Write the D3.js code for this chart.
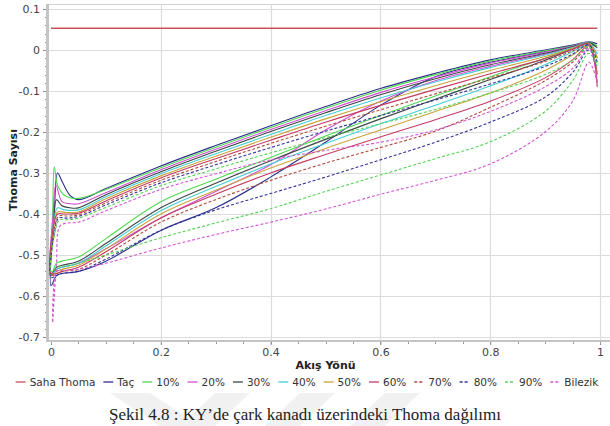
<!DOCTYPE html>
<html>
<head>
<meta charset="utf-8">
<script src="https://cdn.jsdelivr.net/npm/d3@7"></script>
<style>
  body { margin: 0; background: #fff; }
  svg { display: block; }
</style>
</head>
<body>
<svg id="chart" width="610" height="426"></svg>
<script>
// series names (legend order)
const seriesNames = ["Taç","10%","20%","30%","40%","50%","60%","70%","80%","90%","Bilezik"];
const sahaThoma = [[0, 0.053], [0.995, 0.053]];

// pressure side (upper branch) sampled at xUpper
const xUpper = [0.05, 0.1, 0.2, 0.3, 0.4, 0.5, 0.6, 0.7, 0.8, 0.9, 0.95, 0.98];
const upperValues = [
  [-0.365,-0.338,-0.283,-0.233,-0.185,-0.138,-0.094,-0.057,-0.024, 0.000, 0.012, 0.020],
  [-0.362,-0.340,-0.287,-0.237,-0.189,-0.142,-0.098,-0.060,-0.027,-0.002, 0.010, 0.019],
  [-0.375,-0.348,-0.292,-0.242,-0.194,-0.148,-0.104,-0.066,-0.032,-0.005, 0.009, 0.018],
  [-0.385,-0.353,-0.297,-0.247,-0.199,-0.153,-0.109,-0.070,-0.036,-0.008, 0.008, 0.018],
  [-0.390,-0.358,-0.302,-0.253,-0.206,-0.160,-0.117,-0.078,-0.043,-0.012, 0.006, 0.017],
  [-0.395,-0.363,-0.307,-0.259,-0.213,-0.168,-0.126,-0.087,-0.050,-0.016, 0.004, 0.016],
  [-0.398,-0.368,-0.312,-0.265,-0.220,-0.176,-0.135,-0.096,-0.058,-0.021, 0.002, 0.015],
  [-0.402,-0.373,-0.318,-0.272,-0.228,-0.186,-0.146,-0.107,-0.068,-0.028,-0.002, 0.014],
  [-0.406,-0.378,-0.324,-0.280,-0.238,-0.198,-0.160,-0.122,-0.083,-0.040,-0.010, 0.012],
  [-0.410,-0.384,-0.331,-0.290,-0.251,-0.214,-0.180,-0.145,-0.105,-0.060,-0.025, 0.008],
  [-0.420,-0.392,-0.340,-0.302,-0.268,-0.245,-0.225,-0.195,-0.150,-0.090,-0.045, 0.004]
];

// suction side (lower branch) sampled at xLower
const xLower = [0.01, 0.02, 0.05, 0.1, 0.2, 0.3, 0.4, 0.5, 0.6, 0.7, 0.8, 0.9, 0.95, 0.98];
const lowerValues = [
  [-0.550,-0.545,-0.540,-0.515,-0.440,-0.385,-0.310,-0.225,-0.135,-0.065,-0.030,-0.004, 0.010, 0.019],
  [-0.520,-0.515,-0.505,-0.460,-0.370,-0.315,-0.262,-0.210,-0.160,-0.112,-0.065,-0.020, 0.004, 0.016],
  [-0.535,-0.530,-0.520,-0.485,-0.410,-0.345,-0.280,-0.195,-0.125,-0.075,-0.040,-0.010, 0.006, 0.017],
  [-0.530,-0.525,-0.515,-0.472,-0.385,-0.325,-0.270,-0.218,-0.168,-0.120,-0.072,-0.025, 0.002, 0.016],
  [-0.535,-0.530,-0.520,-0.478,-0.392,-0.333,-0.278,-0.228,-0.180,-0.135,-0.088,-0.036,-0.004, 0.014],
  [-0.540,-0.535,-0.525,-0.485,-0.400,-0.342,-0.288,-0.240,-0.195,-0.150,-0.105,-0.050,-0.012, 0.012],
  [-0.545,-0.540,-0.530,-0.492,-0.410,-0.352,-0.300,-0.255,-0.212,-0.170,-0.125,-0.068,-0.024, 0.010],
  [-0.545,-0.540,-0.535,-0.500,-0.420,-0.365,-0.318,-0.276,-0.238,-0.198,-0.140,-0.075,-0.030, 0.006],
  [-0.550,-0.545,-0.540,-0.510,-0.440,-0.390,-0.350,-0.310,-0.268,-0.225,-0.176,-0.115,-0.055, 0.000],
  [-0.530,-0.528,-0.520,-0.500,-0.458,-0.422,-0.387,-0.345,-0.305,-0.265,-0.224,-0.150,-0.075,-0.008],
  [-0.540,-0.538,-0.535,-0.520,-0.483,-0.450,-0.420,-0.388,-0.352,-0.318,-0.278,-0.200,-0.125,-0.030]
];

// leading edge points [x, value] going from suction side up to pressure side
const leadingEdge = [
  [[0,-0.575],[0.006,-0.40],[0.012,-0.300],[0.02,-0.320],[0.035,-0.355]],
  [[0,-0.550],[0.003,-0.40],[0.006,-0.285],[0.012,-0.330],[0.025,-0.355]],
  [[0,-0.545],[0.004,-0.40],[0.009,-0.330],[0.02,-0.370],[0.035,-0.375]],
  [[0,-0.550],[0.005,-0.42],[0.010,-0.365],[0.02,-0.380],[0.035,-0.385]],
  [[0,-0.550],[0.006,-0.41],[0.012,-0.385],[0.025,-0.390]],
  [[0,-0.550],[0.006,-0.42],[0.012,-0.395],[0.025,-0.396]],
  [[0,-0.545],[0.006,-0.42],[0.012,-0.400],[0.025,-0.400]],
  [[0,-0.550],[0.007,-0.43],[0.014,-0.405],[0.03,-0.405]],
  [[0,-0.555],[0.007,-0.44],[0.014,-0.410],[0.03,-0.410]],
  [[0,-0.540],[0.008,-0.44],[0.015,-0.415],[0.03,-0.414]],
  [[0.004,-0.60],[0.003,-0.665],[0.006,-0.60],[0.01,-0.52],[0.016,-0.430],[0.03,-0.422]]
];

// trailing edge value at x = 0.995
const trailingEdge = [0.015, 0.010, -0.020, 0.005, -0.010, -0.020, -0.090, -0.060, -0.030, -0.040, -0.080];

const colors = ["#2b2f8c","#4fd84f","#d24fd2","#3d4646","#45cfd6","#c9a43a","#c43c64","#b24a3c","#33339a","#55d455","#d455d4"];
const dashed = [false,false,false,false,false,false,false,true,true,true,true];
const sahaColor = "#c8505a";

const svg = d3.select("#chart");
const plot = {left: 48, right: 610, top: 4, bottom: 341};

const x = d3.scaleLinear().domain([0, 1]).range([51, 600]);
const y = d3.scaleLinear().domain([0.1, -0.7]).range([9, 337]);

const font = "'DejaVu Sans', Verdana, sans-serif";

// faint watermark stripes behind the caption
const wm = svg.append("g").attr("fill","#f1f1f1");
[[110,393,150,393,200,426,160,426],[215,393,250,393,215,426,180,426],
 [300,393,335,393,300,426,265,426],[385,393,420,393,385,426,350,426]]
  .forEach(p => wm.append("polygon").attr("points",
    `${p[0]},${p[1]} ${p[2]},${p[3]} ${p[4]},${p[5]} ${p[6]},${p[7]}`));

svg.append("clipPath").attr("id","clip")
  .append("rect").attr("x",plot.left).attr("y",plot.top)
  .attr("width",plot.right-plot.left).attr("height",plot.bottom-plot.top);

// border top
svg.append("line").attr("x1",plot.left).attr("x2",plot.right)
  .attr("y1",plot.top+0.5).attr("y2",plot.top+0.5)
  .attr("stroke","#d4d4d4");

// grid
const gy = d3.range(-7, 2).map(d => d/10);
svg.append("g").selectAll("line").data(gy).join("line")
  .attr("x1",plot.left).attr("x2",plot.right)
  .attr("y1",d=>Math.round(y(d))+0.5).attr("y2",d=>Math.round(y(d))+0.5)
  .attr("stroke","#dcdcdc").attr("stroke-width",1.2);
const gx = [0.2,0.4,0.6,0.8,1];
svg.append("g").selectAll("line").data(gx).join("line")
  .attr("y1",plot.top).attr("y2",plot.bottom)
  .attr("x1",d=>Math.round(x(d))+0.5).attr("x2",d=>Math.round(x(d))+0.5)
  .attr("stroke","#dcdcdc").attr("stroke-width",1.2);

// y axis
const yAxis = svg.append("g").attr("transform",`translate(${plot.left},0)`)
  .call(d3.axisLeft(y).tickValues(gy).tickSize(5).tickPadding(3)
    .tickFormat(d => d === 0 ? "0" : d3.format(".1f")(d).replace("−","-")));
yAxis.select(".domain").remove();
yAxis.selectAll(".tick line").attr("stroke","#888");
yAxis.selectAll("text").attr("font-family",font).attr("font-size",11).attr("fill","#444");
svg.append("g").selectAll("line").data(d3.range(-35, 6).map(d=>d/50)).join("line")
  .attr("x1",plot.left-3).attr("x2",plot.left)
  .attr("y1",d=>Math.round(y(d))+0.5).attr("y2",d=>Math.round(y(d))+0.5)
  .attr("stroke","#999");

// x axis
const xAxis = svg.append("g").attr("transform",`translate(0,${plot.bottom})`)
  .call(d3.axisBottom(x).tickValues([0,0.2,0.4,0.6,0.8,1]).tickSize(4).tickPadding(3)
    .tickFormat(d => d === 0 || d === 1 ? d3.format("d")(d) : d3.format(".1f")(d)));
xAxis.select(".domain").remove();
xAxis.selectAll(".tick line").attr("stroke","#888");
xAxis.selectAll("text").attr("font-family",font).attr("font-size",11).attr("fill","#444");
svg.append("g").selectAll("line").data(d3.range(0, 21).map(d=>d/20)).join("line")
  .attr("y1",plot.bottom).attr("y2",plot.bottom+3)
  .attr("x1",d=>Math.round(x(d))+0.5).attr("x2",d=>Math.round(x(d))+0.5)
  .attr("stroke","#999");

// axis lines (thick grey)
svg.append("line").attr("x1",plot.left-0.5).attr("x2",plot.left-0.5)
  .attr("y1",plot.top).attr("y2",plot.bottom+1)
  .attr("stroke","#c4c4c4").attr("stroke-width",3);
svg.append("line").attr("x1",plot.left-2).attr("x2",plot.right)
  .attr("y1",plot.bottom).attr("y2",plot.bottom)
  .attr("stroke","#c4c4c4").attr("stroke-width",2);

// axis titles
svg.append("text").attr("x",x(0.5)).attr("y",369)
  .attr("text-anchor","middle").attr("font-family",font)
  .attr("font-size",11).attr("font-weight","bold").attr("fill","#222")
  .text("Akış Yönü");
svg.append("text").attr("transform","translate(17,170) rotate(-90)")
  .attr("text-anchor","middle").attr("font-family",font)
  .attr("font-size",11).attr("font-weight","bold").attr("fill","#222")
  .text("Thoma Sayısı");

// curves
const line = d3.line().x(d=>x(d[0])).y(d=>y(d[1])).curve(d3.curveCatmullRom.alpha(0.5));
const lines = svg.append("g").attr("clip-path","url(#clip)");

lines.append("path").datum(sahaThoma).attr("d",line)
  .attr("fill","none").attr("stroke",sahaColor).attr("stroke-width",1.3);

seriesNames.forEach((name,i)=>{
  const pts = [];
  pts.push([0.995, trailingEdge[i]]);
  for (let k = xLower.length-1; k >= 0; k--) pts.push([xLower[k], lowerValues[i][k]]);
  leadingEdge[i].forEach(p => pts.push(p));
  xUpper.forEach((xv,k) => pts.push([xv, upperValues[i][k]]));
  pts.push([0.995, trailingEdge[i]]);
  lines.append("path").datum(pts).attr("d",line)
    .attr("fill","none").attr("stroke",colors[i]).attr("stroke-width",1.1)
    .attr("stroke-dasharray",dashed[i] ? "3,2" : null);
});

// legend
const legendItems = [{name:"Saha Thoma",color:sahaColor,dash:false}]
  .concat(seriesNames.map((n,i)=>({name:n,color:colors[i],dash:dashed[i]})));
const leg = svg.append("g");
let cx = 0;
legendItems.forEach(it=>{
  const g = leg.append("g").attr("transform",`translate(${cx},0)`);
  g.append("line").attr("x1",0).attr("x2",10).attr("y1",-4).attr("y2",-4)
    .attr("stroke",it.color).attr("stroke-width",1.3)
    .attr("stroke-dasharray",it.dash ? "3,2" : null);
  const t = g.append("text").attr("x",14).attr("y",0)
    .attr("font-family",font).attr("font-size",10.5).attr("fill","#333")
    .text(it.name);
  cx += 14 + t.node().getComputedTextLength() + 8;
});
cx -= 8;
leg.attr("transform",`translate(${(22+592)/2 - cx/2},386)`);

// caption
svg.append("text").attr("x",305).attr("y",420)
  .attr("text-anchor","middle").attr("font-family","'Liberation Serif', 'Times New Roman', serif")
  .attr("font-size",17).attr("fill","#222")
  .text("Şekil 4.8 : KY’de çark kanadı üzerindeki Thoma dağılımı");
</script>
</body>
</html>
